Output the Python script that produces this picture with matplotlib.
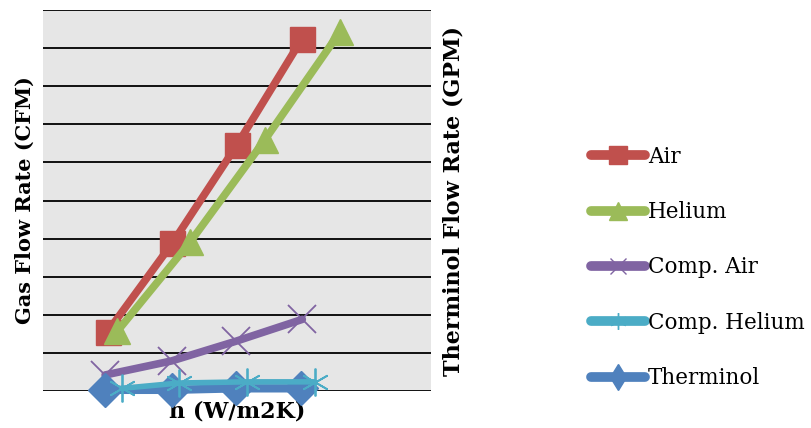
import matplotlib
matplotlib.use("Agg")
import matplotlib.pyplot as plt
from matplotlib.lines import Line2D

# Data (h in W/m2K, flow rates on 0-10 gridline scale)
h_air = [100, 200, 300, 400]
air = [1.56, 3.88, 6.46, 9.23]
h_helium = [115, 228, 343, 459]
helium = [1.57, 3.92, 6.59, 9.42]
h_comp_air = [96, 199, 299, 401]
comp_air = [0.42, 0.79, 1.31, 1.88]
h_comp_helium = [122, 211, 315, 420]
comp_helium = [0.07, 0.21, 0.24, 0.24]
h_therminol = [96, 199, 299, 399]
therminol = [0.03, 0.03, 0.07, 0.07]

labels = ["Air", "Helium", "Comp. Air", "Comp. Helium", "Therminol"]
colors = ["#c0504d", "#9bbb59", "#8064a2", "#4bacc6", "#4f81bd"]

W, H = 811, 428
fig = plt.figure(figsize=(W/100, H/100), dpi=100)
ax = fig.add_axes([43/W, 1-391/H, (431-43)/W, (391-10)/H])
ax.set_facecolor("#e6e6e6")
ax.set_xlim(0, 600)
ax.set_ylim(0, 10)
for s in ax.spines.values():
    s.set_visible(False)
ax.set_yticks(range(0, 11))
ax.set_xticks([])
ax.tick_params(axis='y', length=0, labelleft=False)
ax.grid(axis='y', color='black', linewidth=1.3)
ax.set_axisbelow(True)

lw = 5.5
ax.plot(h_air, air, color=colors[0], lw=lw, marker='s', ms=18, mec=colors[0],
        solid_capstyle='round', zorder=3, clip_on=False)
ax.plot(h_helium, helium, color=colors[1], lw=lw, marker='^', ms=19, mec=colors[1],
        solid_capstyle='round', zorder=3, clip_on=False)
ax.plot(h_comp_air, comp_air, color=colors[2], lw=lw, marker='x', ms=20, mew=1.3,
        mec=colors[2], solid_capstyle='round', zorder=3, clip_on=False)

ax2 = ax.twinx()
ax2.set_ylim(0, 10)
for s in ax2.spines.values():
    s.set_visible(False)
ax2.set_yticks([])
ax2.plot(h_therminol, therminol, color=colors[4], lw=lw+0.5, marker='D', ms=17, mec=colors[4],
         solid_capstyle='round', zorder=3, clip_on=False)
ax2.plot(h_comp_helium, comp_helium, color=colors[3], lw=lw-1.5, marker=(6, 2, 0), ms=20, mew=1.3,
         mec=colors[3], solid_capstyle='round', zorder=4, clip_on=False)

font = "DejaVu Serif"
ax.set_xlabel("h (W/m2K)", fontsize=16, fontweight='bold', family=font, labelpad=7)
ax.set_ylabel("Gas Flow Rate (CFM)", fontsize=15, fontweight='bold', family=font, labelpad=6)
ax2.set_ylabel("Therminol Flow Rate (GPM)", fontsize=16, fontweight='bold', family=font,
               labelpad=8)

handles = [
    Line2D([], [], color=colors[0], lw=7, marker='s', ms=12.5, solid_capstyle='round'),
    Line2D([], [], color=colors[1], lw=7, marker='^', ms=13, solid_capstyle='round'),
    Line2D([], [], color=colors[2], lw=7, marker='x', ms=12, mew=1, solid_capstyle='round'),
    Line2D([], [], color=colors[3], lw=7, marker=(6, 2, 0), ms=12, mew=1, solid_capstyle='round'),
    Line2D([], [], color=colors[4], lw=7, marker='d', ms=13, solid_capstyle='round'),
]
fig.legend(handles, labels, loc='center left', bbox_to_anchor=(580/W, 1-267.5/H),
           frameon=False, prop={'family': font, 'size': 15.5},
           handlelength=2.5, handletextpad=0.15, labelspacing=1.55, borderpad=0)

fig.savefig("out.png", dpi=100)
